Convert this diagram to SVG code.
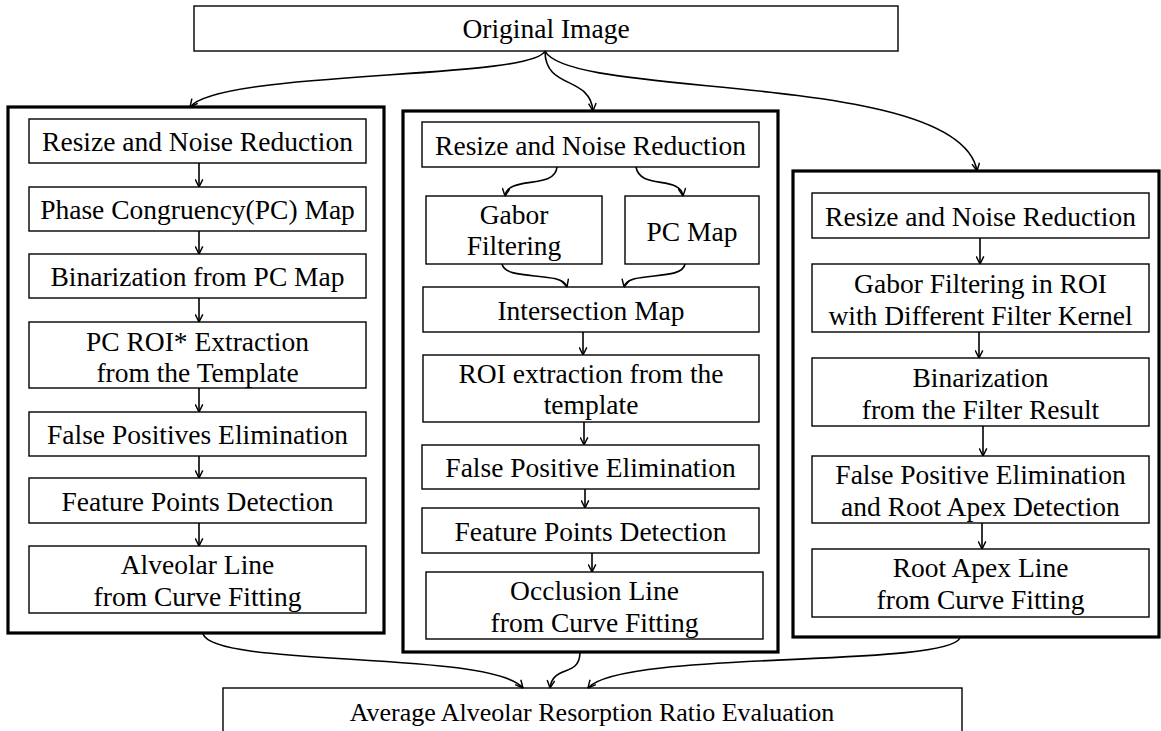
<svg xmlns="http://www.w3.org/2000/svg" width="1161" height="731" viewBox="0 0 1161 731">
<style>
.b{fill:#fff;stroke:#000;stroke-width:1.4}
.o{fill:none;stroke:#000;stroke-width:3.2}
.t{font-family:"Liberation Serif","Times New Roman",serif;font-size:27.5px;fill:#000;text-anchor:middle}
.c{fill:none;stroke:#000;stroke-width:1.6}
</style>
<defs>
<marker id="a" viewBox="0 0 10 10" refX="9.5" refY="5" markerWidth="9" markerHeight="9" markerUnits="userSpaceOnUse" orient="auto">
<path d="M1,0.8 L9.5,5 L1,9.2" fill="none" stroke="#000" stroke-width="1.6"/>
</marker>
</defs>
<rect width="1161" height="731" fill="#fff"/>

<g id="frames">
<rect class="o" x="8" y="107" width="376" height="526"/>
<rect class="o" x="403" y="111" width="375" height="541"/>
<rect class="o" x="793" y="171" width="366" height="466"/>
</g>

<g id="n-original"><rect class="b" x="194" y="6" width="704" height="45"/><text class="t" x="546" y="38">Original Image</text></g>

<g id="n-l1"><rect class="b" x="29" y="119" width="337" height="44"/><text class="t" x="197.5" y="151">Resize and Noise Reduction</text></g>
<g id="n-l2"><rect class="b" x="29" y="187" width="337" height="44"/><text class="t" x="197.5" y="219">Phase Congruency(PC) Map</text></g>
<g id="n-l3"><rect class="b" x="29" y="254" width="337" height="44"/><text class="t" x="197.5" y="286">Binarization from PC Map</text></g>
<g id="n-l4"><rect class="b" x="29" y="322" width="337" height="66"/><text class="t" x="197.5" y="351">PC ROI* Extraction</text><text class="t" x="197.5" y="382">from the Template</text></g>
<g id="n-l5"><rect class="b" x="29" y="412" width="337" height="44"/><text class="t" x="197.5" y="444">False Positives Elimination</text></g>
<g id="n-l6"><rect class="b" x="29" y="478" width="337" height="45"/><text class="t" x="197.5" y="511">Feature Points Detection</text></g>
<g id="n-l7"><rect class="b" x="29" y="546" width="337" height="67"/><text class="t" x="197.5" y="574">Alveolar Line</text><text class="t" x="197.5" y="606">from Curve Fitting</text></g>

<g id="n-m1"><rect class="b" x="422" y="122" width="337" height="45"/><text class="t" x="590.5" y="155">Resize and Noise Reduction</text></g>
<g id="n-m2"><rect class="b" x="426" y="196" width="176" height="68"/><text class="t" x="514" y="224">Gabor</text><text class="t" x="514" y="255">Filtering</text></g>
<g id="n-m3"><rect class="b" x="625" y="196" width="134" height="68"/><text class="t" x="692" y="241">PC Map</text></g>
<g id="n-m4"><rect class="b" x="423" y="287" width="336" height="45"/><text class="t" x="591" y="320">Intersection Map</text></g>
<g id="n-m5"><rect class="b" x="423" y="355" width="336" height="67"/><text class="t" x="591" y="383">ROI extraction from the</text><text class="t" x="591" y="414">template</text></g>
<g id="n-m6"><rect class="b" x="422" y="445" width="337" height="44"/><text class="t" x="590.5" y="477">False Positive Elimination</text></g>
<g id="n-m7"><rect class="b" x="422" y="508" width="337" height="45"/><text class="t" x="590.5" y="541">Feature Points Detection</text></g>
<g id="n-m8"><rect class="b" x="426" y="572" width="337" height="67"/><text class="t" x="594.5" y="600">Occlusion Line</text><text class="t" x="594.5" y="632">from Curve Fitting</text></g>

<g id="n-r1"><rect class="b" x="812" y="193" width="337" height="45"/><text class="t" x="980.5" y="226">Resize and Noise Reduction</text></g>
<g id="n-r2"><rect class="b" x="812" y="264" width="337" height="68"/><text class="t" x="980.5" y="293">Gabor Filtering in ROI</text><text class="t" x="980.5" y="325">with Different Filter Kernel</text></g>
<g id="n-r3"><rect class="b" x="812" y="358" width="337" height="68"/><text class="t" x="980.5" y="387">Binarization</text><text class="t" x="980.5" y="419">from the Filter Result</text></g>
<g id="n-r4"><rect class="b" x="812" y="456" width="337" height="67"/><text class="t" x="980.5" y="484">False Positive Elimination</text><text class="t" x="980.5" y="516">and Root Apex Detection</text></g>
<g id="n-r5"><rect class="b" x="812" y="549" width="337" height="68"/><text class="t" x="980.5" y="577">Root Apex Line</text><text class="t" x="980.5" y="609">from Curve Fitting</text></g>

<g id="n-avg"><rect class="b" x="223" y="688" width="739" height="60"/><text class="t" x="592" y="721" style="font-size:26px">Average Alveolar Resorption Ratio Evaluation</text></g>

<g id="connectors" marker-end="url(#a)">
<path class="c" marker-end="url(#a)" d="M545,51 C532,80 220,70 190,107"/>
<path class="c" marker-end="url(#a)" d="M545,51 C545,90 590,75 593,111"/>
<path class="c" marker-end="url(#a)" d="M545,51 C570,100 960,70 977,171"/>

<path class="c" marker-end="url(#a)" d="M199,163 L199,187"/>
<path class="c" marker-end="url(#a)" d="M199,231 L199,254"/>
<path class="c" marker-end="url(#a)" d="M199,298 L199,322"/>
<path class="c" marker-end="url(#a)" d="M199,388 L199,412"/>
<path class="c" marker-end="url(#a)" d="M199,456 L199,478"/>
<path class="c" marker-end="url(#a)" d="M199,523 L199,546"/>

<path class="c" marker-end="url(#a)" d="M557,167 C555,190 508,175 505,196"/>
<path class="c" marker-end="url(#a)" d="M636,167 C640,190 680,175 683,196"/>
<path class="c" marker-end="url(#a)" d="M502,264 C506,282 562,270 567,287"/>
<path class="c" marker-end="url(#a)" d="M685,264 C682,282 628,270 624,287"/>
<path class="c" marker-end="url(#a)" d="M583,332 L583,355"/>
<path class="c" marker-end="url(#a)" d="M584,422 L584,445"/>
<path class="c" marker-end="url(#a)" d="M585,489 L585,508"/>
<path class="c" marker-end="url(#a)" d="M592,553 L592,572"/>

<path class="c" marker-end="url(#a)" d="M980,238 L980,264"/>
<path class="c" marker-end="url(#a)" d="M979,332 L979,358"/>
<path class="c" marker-end="url(#a)" d="M983,426 L983,456"/>
<path class="c" marker-end="url(#a)" d="M982,523 L982,549"/>

<path class="c" marker-end="url(#a)" d="M203,634 C215,668 490,650 523,688"/>
<path class="c" marker-end="url(#a)" d="M580,653 C579,678 553,664 550,688"/>
<path class="c" marker-end="url(#a)" d="M960,638 C945,668 620,650 588,688"/>
</g>
</svg>
